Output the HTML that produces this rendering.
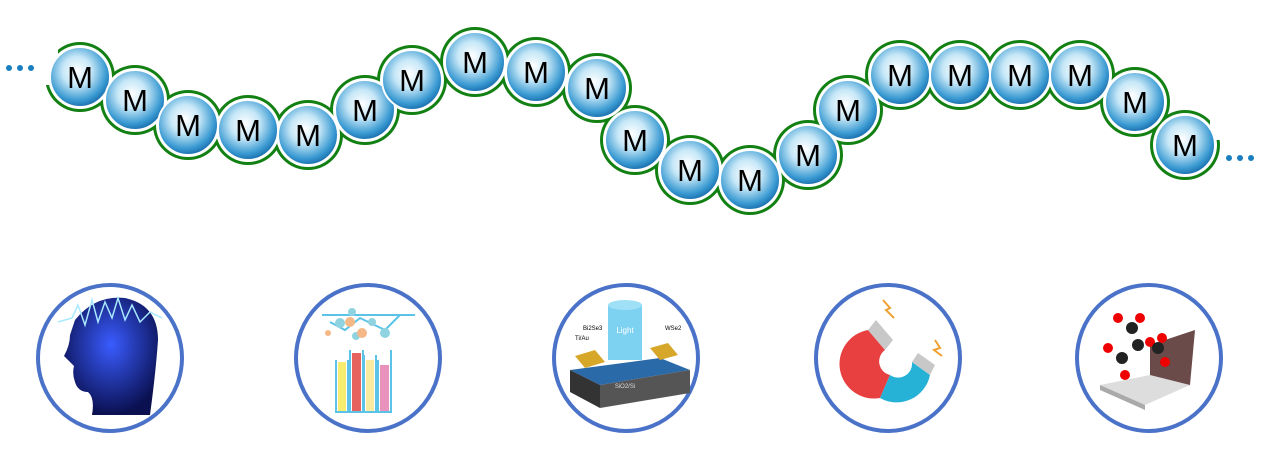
<!DOCTYPE html>
<html><head><meta charset="utf-8"><style>
html,body{margin:0;padding:0;background:#fff;}
svg{display:block;}
</style></head><body>
<svg width="1268" height="458" viewBox="0 0 1268 458" xmlns="http://www.w3.org/2000/svg">
<defs>
<radialGradient id="b" cx="0.45" cy="0.4" r="0.6">
<stop offset="0" stop-color="#ffffff"/>
<stop offset="0.4" stop-color="#c6e7f7"/>
<stop offset="0.82" stop-color="#3a9ad2"/>
<stop offset="1" stop-color="#1a6fae"/>
</radialGradient>
<radialGradient id="head" cx="0.5" cy="0.4" r="0.6">
<stop offset="0" stop-color="#3a5cff"/><stop offset="1" stop-color="#0a1050"/>
</radialGradient>
</defs>
<g id="chain">
<g fill="#138013">
<circle cx="80" cy="77" r="35"/><circle cx="135" cy="100" r="35"/><circle cx="188" cy="125" r="35"/><circle cx="248" cy="130" r="35"/><circle cx="308" cy="135" r="35"/><circle cx="365" cy="110" r="35"/><circle cx="412" cy="80" r="35"/><circle cx="475" cy="62" r="35"/><circle cx="536" cy="72" r="35"/><circle cx="597" cy="88" r="35"/><circle cx="635" cy="140" r="35"/><circle cx="690" cy="170" r="35"/><circle cx="750" cy="180" r="35"/><circle cx="808" cy="155" r="35"/><circle cx="848" cy="110" r="35"/><circle cx="900" cy="75" r="35"/><circle cx="960" cy="75" r="35"/><circle cx="1020" cy="75" r="35"/><circle cx="1080" cy="75" r="35"/><circle cx="1135" cy="102" r="35"/><circle cx="1185" cy="145" r="35"/>
</g>
<rect x="30" y="40" width="28" height="45" fill="#fff"/>
<rect x="1210" y="100" width="30" height="40" fill="#fff"/>
<g fill="#fff">
<circle cx="80" cy="77" r="32"/><circle cx="135" cy="100" r="32"/><circle cx="188" cy="125" r="32"/><circle cx="248" cy="130" r="32"/><circle cx="308" cy="135" r="32"/><circle cx="365" cy="110" r="32"/><circle cx="412" cy="80" r="32"/><circle cx="475" cy="62" r="32"/><circle cx="536" cy="72" r="32"/><circle cx="597" cy="88" r="32"/><circle cx="635" cy="140" r="32"/><circle cx="690" cy="170" r="32"/><circle cx="750" cy="180" r="32"/><circle cx="808" cy="155" r="32"/><circle cx="848" cy="110" r="32"/><circle cx="900" cy="75" r="32"/><circle cx="960" cy="75" r="32"/><circle cx="1020" cy="75" r="32"/><circle cx="1080" cy="75" r="32"/><circle cx="1135" cy="102" r="32"/><circle cx="1185" cy="145" r="32"/>
</g>
<g fill="url(#b)" stroke="#fff" stroke-width="2">
<circle cx="80" cy="77" r="30"/><circle cx="135" cy="100" r="30"/><circle cx="188" cy="125" r="30"/><circle cx="248" cy="130" r="30"/><circle cx="308" cy="135" r="30"/><circle cx="365" cy="110" r="30"/><circle cx="412" cy="80" r="30"/><circle cx="475" cy="62" r="30"/><circle cx="536" cy="72" r="30"/><circle cx="597" cy="88" r="30"/><circle cx="635" cy="140" r="30"/><circle cx="690" cy="170" r="30"/><circle cx="750" cy="180" r="30"/><circle cx="808" cy="155" r="30"/><circle cx="848" cy="110" r="30"/><circle cx="900" cy="75" r="30"/><circle cx="960" cy="75" r="30"/><circle cx="1020" cy="75" r="30"/><circle cx="1080" cy="75" r="30"/><circle cx="1135" cy="102" r="30"/><circle cx="1185" cy="145" r="30"/>
</g>
<g font-family="Liberation Sans, sans-serif" font-size="31" text-anchor="middle" fill="#000">
<text x="80" y="88">M</text><text x="135" y="111">M</text><text x="188" y="136">M</text><text x="248" y="141">M</text><text x="308" y="146">M</text><text x="365" y="121">M</text><text x="412" y="91">M</text><text x="475" y="73">M</text><text x="536" y="83">M</text><text x="597" y="99">M</text><text x="635" y="151">M</text><text x="690" y="181">M</text><text x="750" y="191">M</text><text x="808" y="166">M</text><text x="848" y="121">M</text><text x="900" y="86">M</text><text x="960" y="86">M</text><text x="1020" y="86">M</text><text x="1080" y="86">M</text><text x="1135" y="113">M</text><text x="1185" y="156">M</text>
</g>
<g fill="#1a7fc0">
<circle cx="9" cy="68" r="3"/><circle cx="20" cy="68" r="3"/><circle cx="31" cy="68" r="3"/>
<circle cx="1229" cy="158" r="3"/><circle cx="1240" cy="158" r="3"/><circle cx="1251" cy="158" r="3"/>
</g>
</g>
<g fill="none" stroke="#4a72c8" stroke-width="4">
<ellipse cx="110" cy="358" rx="72" ry="73"/>
<ellipse cx="368" cy="358" rx="72" ry="73"/>
<ellipse cx="626" cy="358" rx="72" ry="73"/>
<ellipse cx="888" cy="358" rx="72" ry="73"/>
<ellipse cx="1149" cy="358" rx="72" ry="73"/>
</g>
<!-- head -->
<path d="M75 320 Q95 295 125 298 Q158 305 158 340 Q156 370 150 415 L92 415 Q95 398 88 392 Q78 392 75 382 Q72 374 74 366 L64 356 Q70 345 70 335 Z" fill="url(#head)"/>
<polyline points="58,322 72,318 78,305 85,325 92,300 98,322 105,302 112,318 118,298 125,320 132,305 140,322 150,312 162,318" fill="none" stroke="#a8e8ff" stroke-width="1.5"/>
<!-- test tubes -->
<g stroke="#5bc3e8" stroke-width="2" fill="none">
<line x1="322" y1="315" x2="415" y2="315"/><polyline points="330,322 345,330 360,318 385,330 400,315"/>
</g>
<g fill="#8fd3e0"><circle cx="340" cy="323" r="5"/><circle cx="352" cy="312" r="4"/><circle cx="372" cy="322" r="4"/><circle cx="385" cy="333" r="5"/><circle cx="356" cy="336" r="4"/></g>
<g fill="#f5b887"><circle cx="350" cy="322" r="5"/><circle cx="362" cy="333" r="5"/><circle cx="328" cy="333" r="3"/></g>
<rect x="338" y="362" width="8" height="50" fill="#f5ec70"/><rect x="352" y="353" width="9" height="59" fill="#e5625f"/><rect x="366" y="360" width="8" height="52" fill="#f8eba0"/><rect x="380" y="365" width="9" height="47" fill="#e992bb"/>
<g fill="none" stroke="#5bc3e8" stroke-width="2"><path d="M336 360 V412 H348 V360"/><path d="M350 350 V412 H363 V350"/><path d="M364 355 V412 H376 V355"/><path d="M378 360 V412 H391 V350"/></g>
<!-- device -->
<rect x="608" y="305" width="34" height="55" fill="#5cc7ef" opacity="0.8"/>
<ellipse cx="625" cy="305" rx="17" ry="5" fill="#9fe0f7"/>
<text x="625" y="333" font-family="Liberation Sans,sans-serif" font-size="8" fill="#fff" text-anchor="middle">Light</text>
<polygon points="570,370 660,358 690,370 600,385" fill="#2a6aa8"/>
<polygon points="570,370 600,385 600,408 570,392" fill="#333"/>
<polygon points="600,385 690,370 690,393 600,408" fill="#555"/>
<polygon points="575,356 595,350 605,362 585,368" fill="#d7a72a"/>
<polygon points="650,348 668,343 678,355 660,360" fill="#d7a72a"/>
<text x="625" y="388" font-family="Liberation Sans,sans-serif" font-size="6" fill="#ddd" text-anchor="middle">SiO2/Si</text>
<text x="583" y="330" font-family="Liberation Sans,sans-serif" font-size="6">Bi2Se3</text>
<text x="575" y="340" font-family="Liberation Sans,sans-serif" font-size="6">Ti/Au</text>
<text x="665" y="330" font-family="Liberation Sans,sans-serif" font-size="6">WSe2</text>
<!-- magnet -->
<path d="M868 330 A34 34 0 0 0 880 398 L890 375 A14 14 0 0 1 885 350 Z" fill="#e84040"/>
<path d="M880 398 A34 34 0 0 0 930 375 L912 362 A14 14 0 0 1 890 375 Z" fill="#25b2d6"/>
<polygon points="868,330 885,350 893,340 876,320" fill="#c8c8c8"/>
<polygon points="912,362 930,375 935,365 918,353" fill="#c8c8c8"/>
<polyline points="883,300 890,308 886,310 894,318" fill="none" stroke="#f0a030" stroke-width="2"/>
<polyline points="935,340 940,348 934,350 942,356" fill="none" stroke="#f0a030" stroke-width="2"/>
<!-- laptop -->
<polygon points="1150,345 1195,330 1190,385 1150,395" fill="#6b4a4a"/>
<polygon points="1100,385 1150,375 1190,385 1145,405" fill="#ddd"/>
<polygon points="1100,385 1145,405 1145,410 1100,390" fill="#aaa"/>
<g fill="#e00"><circle cx="1118" cy="318" r="5"/><circle cx="1140" cy="318" r="5"/><circle cx="1108" cy="348" r="5"/><circle cx="1150" cy="342" r="5"/><circle cx="1162" cy="338" r="5"/><circle cx="1125" cy="375" r="5"/><circle cx="1165" cy="362" r="5"/></g>
<g fill="#222"><circle cx="1132" cy="328" r="6"/><circle cx="1138" cy="345" r="6"/><circle cx="1122" cy="358" r="6"/><circle cx="1158" cy="348" r="6"/></g>
</svg>
</body></html>
